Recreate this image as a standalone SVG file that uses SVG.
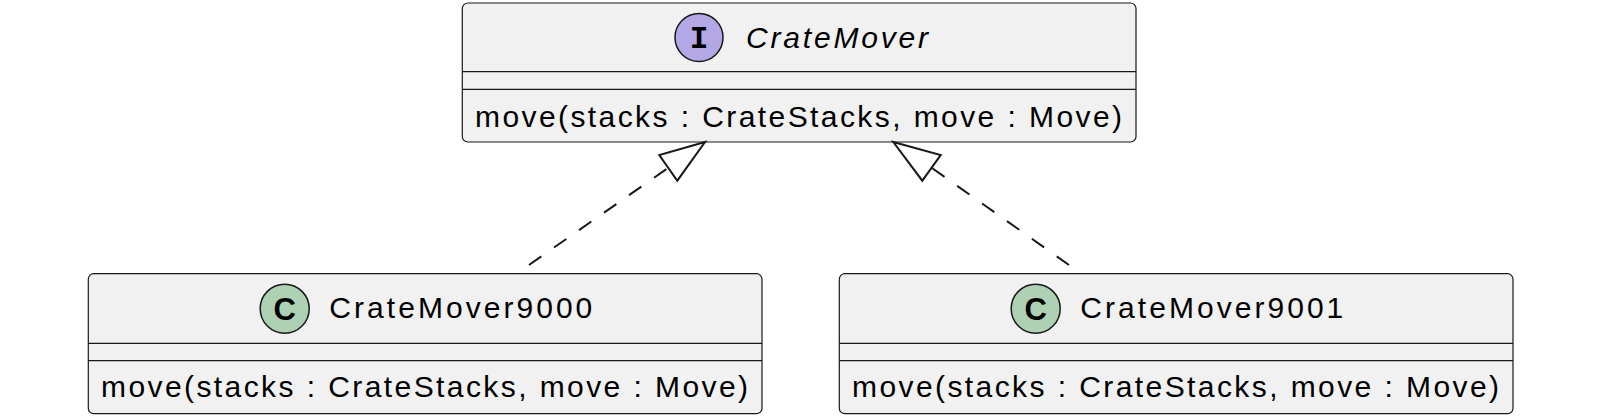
<svg xmlns="http://www.w3.org/2000/svg" width="1600" height="416" viewBox="0 0 1600 416">
<defs>
<style>
.box{fill:#F1F1F1;stroke:#181818;stroke-width:1.2}
.div{stroke:#181818;stroke-width:1.2}
.t{font-family:"Liberation Sans",Arial,sans-serif;font-size:30px;fill:#000000}
.it{font-style:italic}
.icI{fill:#B4A7E5;stroke:#181818;stroke-width:1.5}
.icC{fill:#ADD1B2;stroke:#181818;stroke-width:1.5}
.ltr{font-family:"Liberation Mono","Courier New",monospace;font-weight:bold;font-size:31px;fill:#000000;text-anchor:middle}
.ltrC{font-family:"Liberation Sans",Arial,sans-serif;font-weight:bold;font-size:31px;fill:#000000;text-anchor:middle}
.lnk{fill:none;stroke:#181818;stroke-width:2;stroke-dasharray:15,15.5}
.head{fill:#FFFFFF;stroke:#181818;stroke-width:2}
</style>
</defs>
<rect width="1600" height="416" fill="#FFFFFF"/>
<g id="CrateMover">
<rect class="box" x="462.3" y="3" width="673.7" height="139" rx="5.5" ry="5.5"/>
<circle class="icI" cx="699" cy="37.5" r="24"/>
<text class="ltr" x="699" y="48">I</text>
<text class="t it" x="746" y="47.7" textLength="182" lengthAdjust="spacing">CrateMover</text>
<line class="div" x1="462.3" y1="71.7" x2="1136" y2="71.7"/>
<line class="div" x1="462.3" y1="89.3" x2="1136" y2="89.3"/>
<text class="t" x="475" y="126.7" textLength="647" lengthAdjust="spacing">move(stacks : CrateStacks, move : Move)</text>
</g>
<g id="CrateMover9000">
<rect class="box" x="88.3" y="273.7" width="673.7" height="140" rx="5.5" ry="5.5"/>
<circle class="icC" cx="284.7" cy="308.7" r="24.5"/>
<text class="ltrC" x="284.7" y="319.7">C</text>
<text class="t" x="329.3" y="318.3" textLength="263" lengthAdjust="spacing">CrateMover9000</text>
<line class="div" x1="88.3" y1="343.3" x2="762" y2="343.3"/>
<line class="div" x1="88.3" y1="360.7" x2="762" y2="360.7"/>
<text class="t" x="101" y="397" textLength="647" lengthAdjust="spacing">move(stacks : CrateStacks, move : Move)</text>
</g>
<g id="CrateMover9001">
<rect class="box" x="839.3" y="273.7" width="673.7" height="140" rx="5.5" ry="5.5"/>
<circle class="icC" cx="1035.7" cy="308.7" r="24.5"/>
<text class="ltrC" x="1035.7" y="319.7">C</text>
<text class="t" x="1080.3" y="318.3" textLength="263" lengthAdjust="spacing">CrateMover9001</text>
<line class="div" x1="839.3" y1="343.3" x2="1513" y2="343.3"/>
<line class="div" x1="839.3" y1="360.7" x2="1513" y2="360.7"/>
<text class="t" x="852" y="397" textLength="647" lengthAdjust="spacing">move(stacks : CrateStacks, move : Move)</text>
</g>
<g id="connectors">
<path class="lnk" d="M529,265 L668.3,167.8"/>
<polygon class="head" points="705,142 659.3,155 677.3,180.7"/>
<path class="lnk" d="M1069,265 L931.7,167.8"/>
<polygon class="head" points="893.3,142 940.7,155 922.3,180.7"/>
</g>
</svg>
